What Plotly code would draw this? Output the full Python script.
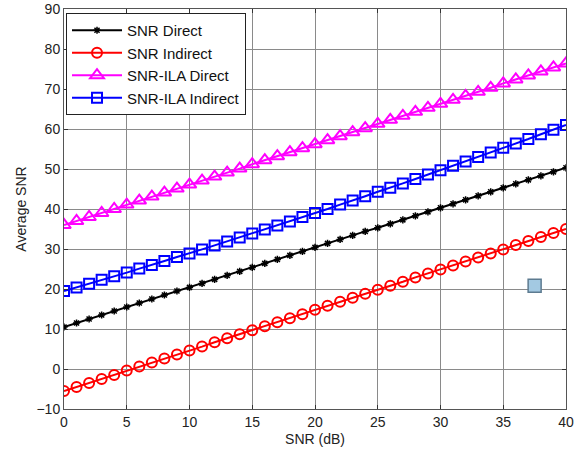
import plotly.graph_objects as go

snr_db = list(range(0, 41))

snr_direct = [10.5, 11.5, 12.5, 13.5, 14.5, 15.5, 16.5, 17.5, 18.5, 19.5,
              20.4, 21.4, 22.4, 23.4, 24.4, 25.4, 26.4, 27.4, 28.4, 29.4,
              30.4, 31.4, 32.4, 33.4, 34.4, 35.3, 36.3, 37.3, 38.3, 39.3,
              40.3, 41.3, 42.3, 43.3, 44.3, 45.3, 46.3, 47.3, 48.3, 49.3, 50.3]

snr_indirect = [-5.5, -4.5, -3.5, -2.5, -1.5, -0.4, 0.6, 1.6, 2.6, 3.6,
                4.6, 5.6, 6.7, 7.7, 8.7, 9.7, 10.7, 11.7, 12.7, 13.7,
                14.8, 15.8, 16.8, 17.8, 18.8, 19.8, 20.8, 21.8, 22.9, 23.9,
                24.9, 25.9, 26.9, 27.9, 28.9, 29.9, 31.0, 32.0, 33.0, 34.0, 35.0]

ila_direct = [36.0, 37.0, 38.0, 39.0, 40.0, 41.1, 42.1, 43.1, 44.1, 45.1,
              46.1, 47.1, 48.1, 49.1, 50.1, 51.2, 52.2, 53.2, 54.2, 55.2,
              56.2, 57.2, 58.2, 59.2, 60.2, 61.3, 62.3, 63.3, 64.3, 65.3,
              66.3, 67.3, 68.3, 69.3, 70.3, 71.4, 72.4, 73.4, 74.4, 75.4, 76.4]

ila_indirect = [19.5, 20.4, 21.3, 22.3, 23.2, 24.1, 25.1, 26.0, 27.0, 28.0,
                28.9, 29.9, 30.9, 31.9, 32.9, 33.9, 34.9, 35.9, 36.9, 38.0,
                39.0, 40.0, 41.1, 42.1, 43.2, 44.3, 45.3, 46.4, 47.5, 48.6,
                49.7, 50.8, 51.9, 53.0, 54.1, 55.3, 56.4, 57.5, 58.7, 59.8, 61.0]

stray_x = [37.5]
stray_y = [20.8]

x_ticks = [0, 5, 10, 15, 20, 25, 30, 35, 40]
y_ticks = [-10, 0, 10, 20, 30, 40, 50, 60, 70, 80, 90]

font_family = "Liberation Sans, Arial, sans-serif"

fig = go.Figure()
fig.add_trace(go.Scatter(
    x=snr_db, y=snr_direct, name="SNR Direct", mode="lines+markers",
    line=dict(color="black", width=2),
    marker=dict(symbol="asterisk-open", size=6, color="black",
                line=dict(color="black", width=1.5))))
fig.add_trace(go.Scatter(
    x=snr_db, y=snr_indirect, name="SNR Indirect", mode="lines+markers",
    line=dict(color="#ff0000", width=2),
    marker=dict(symbol="circle-open", size=10, color="#ff0000",
                line=dict(color="#ff0000", width=2))))
fig.add_trace(go.Scatter(
    x=snr_db, y=ila_direct, name="SNR-ILA Direct", mode="lines+markers",
    line=dict(color="#ff00ff", width=2),
    marker=dict(symbol="triangle-up-open", size=12, color="#ff00ff",
                line=dict(color="#ff00ff", width=2))))
fig.add_trace(go.Scatter(
    x=snr_db, y=ila_indirect, name="SNR-ILA Indirect", mode="lines+markers",
    line=dict(color="#0000ff", width=2),
    marker=dict(symbol="square-open", size=10, color="#0000ff",
                line=dict(color="#0000ff", width=2))))
fig.add_trace(go.Scatter(
    x=stray_x, y=stray_y, mode="markers", showlegend=False, hoverinfo="skip",
    marker=dict(symbol="square", size=13, color="#a3c9e2",
                line=dict(color="#5d7b90", width=1.5))))

axis_common = dict(
    showgrid=True, gridcolor="#8a8a8a", gridwidth=1,
    showline=True, linecolor="#555555", linewidth=1, mirror="ticks",
    ticks="inside", ticklen=4, tickcolor="#333333",
    zeroline=False, ticklabeloverflow="allow", automargin=False,
    tickfont=dict(family=font_family, size=14, color="#222222"),
)

fig.update_xaxes(range=[0, 40], tickvals=x_ticks,
                 title=dict(text="SNR (dB)", font=dict(family=font_family, size=14, color="#222222"), standoff=5),
                 **axis_common)
fig.update_yaxes(range=[-10, 90], tickvals=y_ticks,
                 title=dict(text="Average SNR", font=dict(family=font_family, size=14, color="#222222"), standoff=6),
                 **axis_common)

fig.update_layout(
    width=575, height=454,
    margin=dict(l=64, r=9, t=9, b=45),
    paper_bgcolor="white", plot_bgcolor="white",
    font=dict(family=font_family, size=14, color="#222222"),
    legend=dict(x=0.004, y=0.99, xanchor="left", yanchor="top",
                bgcolor="white", bordercolor="#222222", borderwidth=1,
                font=dict(family=font_family, size=15, color="#111111"),
                itemwidth=50, tracegroupgap=0),
    showlegend=True,
)

fig.write_html("out.html")
